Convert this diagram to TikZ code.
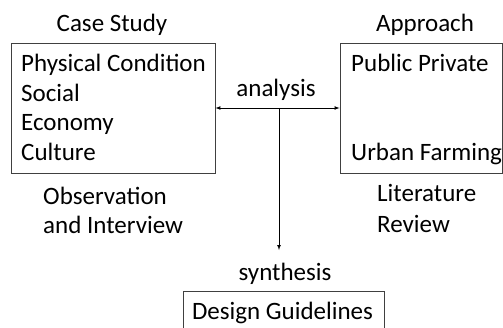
\documentclass[tikz,border=0pt]{standalone}
\usepackage{fontspec}
\setmainfont{Carlito}
\begin{document}
\begin{tikzpicture}[x=1pt,y=1pt,
    box/.style={draw=black!75,line width=0.9pt,minimum width=#1,inner sep=0pt},
    lbl/.style={anchor=base west,inner sep=0pt},
    ttl/.style={anchor=base,inner sep=0pt},
    font=\fontsize{25}{29}\selectfont]
    \useasboundingbox (0,0) rectangle (503,327);
    % boxes
    \node[box=204,minimum height=130] (case) at (113,219) {};
    \node[box=162,minimum height=130] (appr) at (421,219) {};
    \node[box=201,minimum height=50] (guide) at (283.5,11) {};
    % titles
    \node[ttl] (casettl) at (112,295) {Case Study};
    \node[ttl] (apprttl) at (425,295) {Approach};
    % box contents
    \node[lbl] (phys) at (21,255) {Physical Condition};
    \node[lbl] (soc) at (21,225.7) {Social};
    \node[lbl] (eco) at (21,196.4) {Economy};
    \node[lbl] (cult) at (21,167) {Culture};
    \node[lbl] (pub) at (351,255) {Public Private};
    \node[lbl] (farm) at (351,166) {Urban Farming};
    \node[ttl] (design) at (282.5,8) {Design Guidelines};
    % methods
    \node[lbl] (obs) at (43,123) {Observation};
    \node[lbl] (intv) at (43,94) {and Interview};
    \node[lbl] (lit) at (377,125) {Literature};
    \node[lbl] (rev) at (377,95) {Review};
    % arrows
    \node[ttl] (ana) at (276,230) {analysis};
    \node[ttl] (syn) at (285,47) {synthesis};
    \coordinate (split) at (279,219);
    \coordinate (tip) at (279,77);
    \draw[latex-latex,line width=0.7pt] (case.east) -- (appr.west);
    \draw[-latex,line width=0.7pt] (split) -- (tip);
\end{tikzpicture}
\end{document}
